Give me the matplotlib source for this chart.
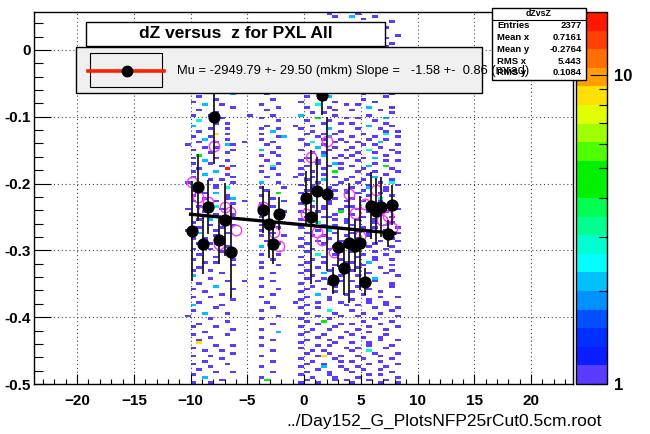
import numpy as np
import matplotlib
matplotlib.use("Agg")
import matplotlib.pyplot as plt
from matplotlib.colors import ListedColormap, LogNorm
from matplotlib.patches import Rectangle
from matplotlib.lines import Line2D
from matplotlib.ticker import MultipleLocator, FixedLocator, NullFormatter

plt.rcParams['font.family'] = ['Liberation Sans', 'DejaVu Sans']

# dZ vs z occupancy: one string per y bin (top to bottom), one char per z bin.
# '.' = empty bin, otherwise the count in base 36.  '|' only splits the z ranges.
Z_LO, Z_BIN = -10.5, 0.5
Y_HI, Y_BIN = 0.06, 0.004
hist_rows = [
    ".........|...|......|..|.........|.........",
    ".........|...|......|..|.....1...|.1.......",
    ".........|...|......|..|......1..|2...1....",
    ".........|...|......|..|.........|..1......",
    ".........|...|......|..|.........|.......1.",
    ".........|...|...1..|..|.........|.........",
    ".........|...|......|..|.........|......1..",
    ".........|...|......|..|.........|.........",
    ".........|...|......|..|....1....|.....1...",
    ".........|...|......|..|.........|........1",
    ".........|...|......|..|.........|......1..",
    "...1.....|...|......|..|.........|....1....",
    ".........|...|......|..|.........|.......1.",
    ".........|...|......|..|.........|......1..",
    "..1......|...|1.....|..|..1......|.1.......",
    "......1..|...|......|..|.1....1..|.......1.",
    "....1....|...|..1...|..|.....1...|..1......",
    ".........|...|......|..|.......1.|.....1...",
    ".1......1|...|..1...|..|....1....|1........",
    ".........|...|......|..|....1....|.1.....1.",
    "...1.....|...|......|..|.......1.|....1....",
    ".......1.|...|..1...|..|..1...1..|.........",
    "..1......|...|......|..|..1......|..1......",
    ".....1...|...|...1..|..|...1....1|......1..",
    ".........|...|......|..|..1....11|.........",
    "...1....1|...|..1...|..|...1.....|.1...1...",
    ".........|...|......|..|...1...1.|...1.....",
    "..1...1..|...|..1.1.|..|....1.1..|...1.....",
    "....1....|...|......|..|...1.....|1....1...",
    ".........|1..|...1..|1.|......1.1|......1..",
    ".1...1...|...|......|..|.......1.|.1.......",
    "........2|...|..1...|..|....1....|..1....1.",
    "..1......|...|......|..|.1...2...|......1..",
    ".....1...|...|...1..|..|....1....|..1......",
    ".1.......|...|......|..|1.....1..|....1....",
    "...2..1..|...|.1....|..|...3....1|.1.......",
    "........1|...|....1.|..|.1...1...|...2...1.",
    "..1......|...|..1...|..|......1..|1....1...",
    ".....1...|...|......|..|..1.1....|.......1.",
    ".1..1....|..1|...1..|..|2.....1..|...1.....",
    "......1..|...|.1....|..|...4....1|.1....2..",
    "..3......|...|....1.|..|.1...1...|....1....",
    ".....1.1.|...|......|..|....1..1.|1.....1..",
    ".2.......|...|..1...|.1|..1......|...2...1.",
    "....1..1.|...|.1..1.|..|1....2...|.1...1...",
    "..1......|...|...2..|..|..1....1.|......1.1",
    ".....9.1.|...|.1....|..|.1..1.1..|..1...3..",
    ".1..1....|...|....12|..|...1.2...|1...1...1",
    "...2...1.|...|.1....|..|1...1..1.|...1..1..",
    "..1..1...|.1.|...1..|..|..3...1.1|.1...2...",
    "1......21|...|..1...|..|.1..1....|..1.1...1",
    "...1.1...|...|....1.|..|...2..1..|1....1...",
    ".1......1|...|.2....|..|1....1..1|...3...1.",
    "....1..1.|...|...1..|..|..1.1....|.1..1...1",
    "..4......|...|.1..1.|..|....2..1.|1.....1..",
    ".1...1...|...|......|..|.1....1.1|..1.2....",
    "...2...1.|...|..1...|..|1..1.....|.1....1.1",
    ".1..1....|...|....1.|..|...1..21.|....1....",
    "......1.1|...|.1.3..|..|.1...1...|1..2..5..",
    "..1....f.|...|...1..|..|1...1..1.|..1....1.",
    ".1...2...|...|.1....|..|..1...4..|.1..1...1",
    "...2...1.|...|....1.|..|1...1....|...1..1..",
    ".1......1|...|..1...|.1|..1...1..|1...2....",
    "....1.1..|...|......|..|.1..2...1|..1....1.",
    "1.......1|...|.2..1.|..|...1...1.|.1...1.3.",
    "..2..1...|...|......|..|1.1...1..|...1....1",
    ".....1.3.|...|.1...1|..|..1..1...|1..2..1..",
    ".1.......|...|..1...|..|.1....1.1|..1...1..",
    "...1.2...|...|....4.|..|1..2....1|.1...1...",
    ".1.....1.|...|.1....|..|...1.1...|...1...1.",
    "...1...12|...|...1..|..|.1....1..|1....3...",
    ".1...1...|.1.|.....1|..|..2..1..1|..1..1...",
    "....1...1|...|.1....|..|1....1...|....1..1.",
    "..1..3...|...|...1..|..|..1.1...1|1.....2..",
    "1.....1..|...|.1....|..|....1..1.|.1..1...1",
    "...1.....|...|..2..1|..|1..1...4.|...1..1..",
    ".1...1..1|...|......|..|..1...1..|1....2...",
    "....1....|...|.1..1.|..|.1..11...|..1....1.",
    "..1.2....|...|......|..|1.....1.1|.1..1....",
    ".1.....1.|...|...1..|..|...3....1|....1..1.",
    "....1...1|...|.1....|..|.1..1.1..|1.....2..",
    "..1...1..|...|....1.|..|1.....1..|..1.1...1",
    "1....1...|...|.1....|..|...1.2...|.1....1..",
    "..2....1.|...|...1..|..|.1....1..|1..1....1",
    ".....1...|...|.1...1|..|..1.1...1|...1..1..",
    ".1.1.....|...|......|..|1....1...|.1.....1.",
    "......1..|...|..1...|..|...1...1.|..4..1..1",
    "..1.1....|...|....1.|..|.1..1....|1...1....",
    ".......1.|...|.2....|..|1.....1.1|...1...1.",
    ".1..1....|...|...1..|..|..1..1...|.1....1..",
    "......1.1|...|......|..|.1.....1.|1...1...1",
    "..1......|...|.1..1.|..|...3..1..|..1...1..",
    ".....1...|...|......|..|1...1....|.1..1....",
    ".1......1|...|...1..|..|..1....1.|....1..1.",
    "...1.1...|...|.1....|..|.1..1...1|1..2.....",
    "........1|...|....1.|..|1.....1..|..1....1.",
    "..1......|...|.1....|..|...1...1.|.1...1...",
    ".1..1....|...|......|..|.1...1...|1......1.",
    "......1..|...|...1..|..|1...2....|...1..1..",
    ".2.......|...|......|..|..1....1.|.1......1",
    "....1....|...|.1....|..|.1..1....|....2....",
    ".......1.|.1.|...1..|..|...1...1.|1...1....",
    "..1......|...|......|..|1....1...|..1....1.",
    ".....2...|...|.1....|..|..1...1..|.1.....1.",
    ".1......1|...|....1.|..|.1..1....|...1.....",
    "...1.....|...|......|..|1.....1..|1....1...",
    "......1..|...|...1..|..|...2....1|..1......",
    ".1..1....|...|.1....|..|.1...1...|.....1..1",
    "........1|...|......|..|1....1...|1..1.....",
    "..1......|...|..1...|.1|...1...1.|...1..1..",
    ".2....1..|...|......|..|.1......1|.1....1..",
    ".....1...|...|...1..|..|1..1.....|....1...1",
    ".1.......|...|.1....|..|.....3...|1......1.",
    "...2...1.|...|......|..|.1....1..|..1..1...",
    "1........|...|....1.|..|...1...1.|.1......1",
    "....1....|...|.1....|..|1....1...|....1....",
    ".......1.|...|......|..|.1..4....|..1....1.",
    "..1......|...|...1..|..|...1...1.|1....1...",
    ".1...1...|...|......|..|1.....1..|...1....1",
    "........1|...|.1....|..|..1..1...|.1....1..",
    "...1.....|...|....2.|..|.1......1|...1.....",
    ".1.....1.|...|......|..|1...1....|1.....1..",
    "....1....|...|.1....|..|...1...1.|..1..1...",
    "..1......|...|...1..|..|.1...1...|.....1..1",
    "..9......|...|......|..|1.....1..|1..1.....",
    ".....1..1|...|.1....|..|...1.1...|...1...1.",
    ".1.......|...|......|..|1.......1|.1....1..",
    "...1..1..|...|...1..|..|..1.1....|1..3.....",
    "........1|...|......|..|.1...1...|....1...1",
    ".1..1....|...|.1....|..|...19..1.|.1...1...",
    "......1..|...|......|..|1.....1..|..1....1.",
    "...1.....|...|...1..|..|..1....1.|1....1...",
    ".1.....1.|...|......|..|.1..1....|...1....1",
    "....1....|...|.1....|..|1...2..1.|.1....1..",
    "..1......|...|......|..|...1....1|..1..1...",
    ".....1..1|...|...1..|..|.1...1...|1......1.",
    ".1.......|...|......|..|1....1...|...1.1...",
    "...2.....|...|.1....|..|..1...1..|.1......1",
    "......1..|...|..5...|..|.1....1.1|...1..1..",
    ".1..1....|...|......|..|1..1.....|1....1..1",
]

# profile of dZ in z slices (black points)
prof_z = [-9.88, -9.35, -8.88, -8.44, -7.94, -7.49, -7.00, -6.46,
          -3.66, -3.13, -2.72, -2.21,
          0.18, 0.62, 1.12, 1.62, 2.06, 2.54, 2.98, 3.48, 4.00, 4.51,
          4.96, 5.40, 5.93, 6.37, 6.79, 7.37, 7.76]
prof_dz = [-0.271, -0.2055, -0.290, -0.235, -0.1005, -0.285, -0.254, -0.302,
           -0.239, -0.261, -0.290, -0.245,
           -0.221, -0.250, -0.211, -0.068, -0.216, -0.345, -0.295, -0.327,
           -0.289, -0.293, -0.289, -0.347, -0.233, -0.241, -0.235, -0.275,
           -0.232]
prof_err = [0.075, 0.05, 0.045, 0.04, 0.07, 0.035, 0.055, 0.07,
            0.035, 0.05, 0.03, 0.025,
            0.04, 0.10, 0.05, 0.03, 0.115, 0.02, 0.03, 0.04, 0.09, 0.04,
            0.07, 0.02, 0.05, 0.05, 0.045, 0.02, 0.03]

# second profile (open magenta markers)
alt_z = [-9.88, -9.35, -8.88, -8.44, -7.94, -7.49, -7.00, -6.49, -6.02,
         -3.66, -2.65, -2.18,
         0.18, 0.62, 1.12, 1.62, 2.06, 2.60, 4.00, 4.51, 4.96, 5.40,
         6.37, 6.87, 7.37, 7.76]
alt_dz = [-0.197, -0.220, -0.241, -0.228, -0.144, -0.290, -0.235, -0.243,
          -0.270, -0.235, -0.273, -0.293,
          -0.245, -0.160, -0.273, -0.284, -0.136, -0.303, -0.216, -0.244,
          -0.279, -0.231, -0.209, -0.254, -0.249, -0.266]

# straight line fit of the profile, dZ = mu + slope * z  (cm)
fit_mu = -0.2618
fit_slope = -0.00158
fit_zmin, fit_zmax = -10.0, 8.0

stat_names = ['Entries', 'Mean x', 'Mean y', 'RMS x', 'RMS y']
stat_values = ['2377', '0.7161', '-0.2764', '5.443', '0.1084']

# ROOT "pretty" palette, 20 contour levels
palette = ['#5b3bff', '#0a1eff', '#0030ff', '#0050ff', '#0090ff',
           '#00c0ff', '#00ffff', '#00ffd0', '#00ff90', '#00ff50',
           '#00f000', '#00f000', '#50ff00', '#a0ff00', '#e0ff00',
           '#ffe000', '#ffa000', '#ff7000', '#ff4000', '#ff1800']

W, H = 650, 434
fig = plt.figure(figsize=(W / 100, H / 100), dpi=100)


def fx(x):
    return x / W


def fy(y):
    return 1 - y / H


ax = fig.add_axes([fx(34), fy(384), (573 - 34) / W, (384 - 12) / H])
cax = fig.add_axes([fx(576), fy(384), (607 - 576) / W, (384 - 12) / H])

rows = [r.replace('|', '') for r in hist_rows]
ncol = len(rows[0])
counts = np.array([[0 if ch == '.' else int(ch, 36) for ch in r.ljust(ncol, '.')[:ncol]]
                   for r in rows], dtype=float)
z_edges = Z_LO + Z_BIN * np.arange(ncol + 1)
y_edges = Y_HI - Y_BIN * np.arange(len(rows) + 1)

cmap = ListedColormap(palette)
norm = LogNorm(vmin=1, vmax=16)
mesh = ax.pcolormesh(z_edges, y_edges, np.ma.masked_equal(counts, 0),
                     cmap=cmap, norm=norm, zorder=1)

ax.set_xlim(-23.8, 23.7)
ax.set_ylim(-0.5, 0.0567)

# points, fit
ax.plot(alt_z, alt_dz, 'o', mfc='none', mec='#ff33ff', mew=1.0, ms=7.5, zorder=3)
ax.errorbar(prof_z, prof_dz, yerr=prof_err, fmt='o', color='black', ms=7.8,
            ecolor='#1a1a1a', elinewidth=1.3, capsize=0, zorder=4)
fz = np.array([fit_zmin, fit_zmax])
ax.plot(fz, fit_mu + fit_slope * fz, color='black', lw=2.4, zorder=5)

# axes styling
ax.grid(True, which='major', color='#444444', linestyle=(0, (1, 2.5)), lw=0.8, zorder=2)
ax.xaxis.set_major_locator(MultipleLocator(5))
ax.xaxis.set_minor_locator(MultipleLocator(1))
ax.yaxis.set_major_locator(MultipleLocator(0.1))
ax.yaxis.set_minor_locator(MultipleLocator(0.02))
ax.yaxis.set_major_formatter(plt.FuncFormatter(lambda v, p: '0' if abs(v) < 1e-9 else f'{v:.1f}'))
ax.tick_params(axis='x', which='major', direction='in', length=7.2, width=0.8, pad=7,
               labelsize=11, top=False)
ax.tick_params(axis='x', which='minor', direction='in', length=3.6, width=0.8, top=False)
ax.tick_params(axis='y', which='major', direction='in', length=12.2, width=0.8, pad=2,
               labelsize=11, right=False)
ax.tick_params(axis='y', which='minor', direction='in', length=6.5, width=0.8, right=False)
for lab in ax.get_xticklabels() + ax.get_yticklabels():
    lab.set_fontweight('bold')
for sp in ax.spines.values():
    sp.set_linewidth(1.0)

# colour scale
cb = fig.colorbar(mesh, cax=cax)
cb.outline.set_linewidth(1.0)
cax.yaxis.set_ticks_position('right')
cax.yaxis.set_major_locator(FixedLocator([1, 10]))
cax.yaxis.set_major_formatter(plt.FuncFormatter(lambda v, p: f'{v:.0f}'))
cax.yaxis.set_minor_locator(FixedLocator([2, 3, 4, 5, 6, 7, 8, 9]))
cax.yaxis.set_minor_formatter(NullFormatter())
cax.tick_params(which='major', direction='in', length=12, width=0.8, pad=5, labelsize=12)
cax.tick_params(which='minor', direction='in', length=6, width=0.8)
for lab in cax.get_yticklabels():
    lab.set_fontweight('bold')

fig.text(fx(602), fy(421), '../Day152_G_PlotsNFP25rCut0.5cm.root', ha='right',
         va='center', fontsize=12.5)


def box(x0, y0, x1, y1, fc, z, lw=1.0):
    fig.add_artist(Rectangle((fx(x0), fy(y1)), (x1 - x0) / W, (y1 - y0) / H,
                             transform=fig.transFigure, fc=fc, ec='black', lw=lw, zorder=z))


# statistics box
box(492, 8, 586, 80, 'white', 5)
fig.text(fx(539), fy(14), 'dZvsZ', ha='center', va='center', fontsize=6.3,
         fontweight='bold', zorder=6)
fig.add_artist(Line2D([fx(492), fx(586)], [fy(20), fy(20)], transform=fig.transFigure,
                      color='black', lw=0.8, zorder=6))
for i, (n, v) in enumerate(zip(stat_names, stat_values)):
    yy = 26 + i * 11.7
    fig.text(fx(497), fy(yy), n, ha='left', va='center', fontsize=6.8, fontweight='bold', zorder=6)
    fig.text(fx(582), fy(yy), v, ha='right', va='center', fontsize=6.8, fontweight='bold', zorder=6)

# title
box(86, 22, 385, 46, 'white', 7)
fig.text(fx(236), fy(34), 'dZ versus  z for PXL All', ha='center', va='center',
         fontsize=12.5, fontweight='bold', zorder=8)

# legend
box(76, 47, 482, 93, '#f0f0f0', 7)
box(90, 53, 162, 87, 'none', 8, lw=0.8)
fig.add_artist(Line2D([fx(88), fx(164)], [fy(71), fy(71)], transform=fig.transFigure,
                      color='#ff2000', lw=2.6, zorder=8))
fig.add_artist(Line2D([fx(127)], [fy(71)], transform=fig.transFigure, marker='o',
                      color='black', ms=7.5, zorder=9))
fig.text(fx(177), fy(71), 'Mu = -2949.79 +- 29.50 (mkm) Slope =   -1.58 +-  0.86 (mrad)',
         ha='left', va='center', fontsize=9.3, zorder=9)

fig.savefig('out.png', dpi=100)
